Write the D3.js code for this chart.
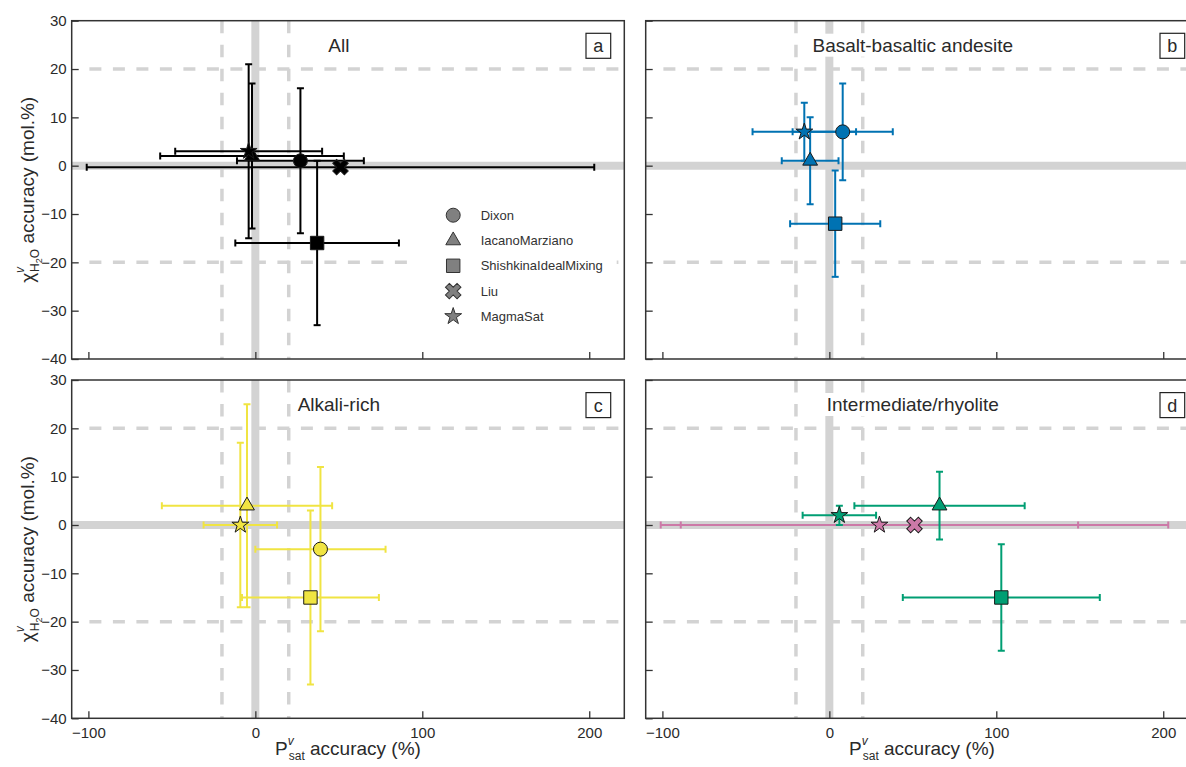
<!DOCTYPE html>
<html><head><meta charset="utf-8">
<script src="https://cdn.jsdelivr.net/npm/d3@7"></script>
<style>
body{margin:0;background:#fff;overflow:hidden;}
svg{display:block;font-family:"Liberation Sans",Arial,Helvetica,sans-serif;}
</style>
</head><body>
<svg id="chart" width="1186" height="767"></svg>
<script>
// ---------------- data ----------------
const models = ["Dixon", "IacanoMarziano", "ShishkinaIdealMixing", "Liu", "MagmaSat"];
const xTicks = [-100, 0, 100, 200];
const yTicks = [-40, -30, -20, -10, 0, 10, 20, 30];
const panelTitles = ["All", "Basalt-basaltic andesite", "Alkali-rich", "Intermediate/rhyolite"];
const panelLetters = ["a", "b", "c", "d"];

// point: model, group, x (P accuracy %), xerr, y (X accuracy mol.%), yerr
const dataAll = [
  {model: "Liu", group: "all", x: 51, xerr: 152, y: -0.3, yerr: 0},
  {model: "IacanoMarziano", group: "all", x: -2, xerr: 55, y: 2, yerr: 15},
  {model: "MagmaSat", group: "all", x: -4, xerr: 44, y: 3, yerr: 18},
  {model: "Dixon", group: "all", x: 27, xerr: 38, y: 1, yerr: 15},
  {model: "ShishkinaIdealMixing", group: "all", x: 37, xerr: 49, y: -16, yerr: 17}
];
const dataBasalt = [
  {model: "Dixon", group: "basalt", x: 8, xerr: 30, y: 7, yerr: 10},
  {model: "MagmaSat", group: "basalt", x: -15, xerr: 31, y: 7, yerr: 6},
  {model: "IacanoMarziano", group: "basalt", x: -11.5, xerr: 17, y: 1, yerr: 9},
  {model: "ShishkinaIdealMixing", group: "basalt", x: 3.5, xerr: 27, y: -12, yerr: 11}
];
const dataAlkali = [
  {model: "IacanoMarziano", group: "alkali", x: -5, xerr: 51, y: 4, yerr: 21},
  {model: "MagmaSat", group: "alkali", x: -9, xerr: 22, y: 0, yerr: 17},
  {model: "Dixon", group: "alkali", x: 39, xerr: 39, y: -5, yerr: 17},
  {model: "ShishkinaIdealMixing", group: "alkali", x: 33, xerr: 41, y: -15, yerr: 18}
];
const dataIntermediate = [
  {model: "Liu", group: "rhyolite", x: 51, xerr: 152, y: 0, yerr: 0},
  {model: "MagmaSat", group: "rhyolite", x: 30, xerr: 119, y: 0, yerr: 0},
  {model: "MagmaSat", group: "intermediate", x: 6, xerr: 22, y: 2, yerr: 2},
  {model: "IacanoMarziano", group: "intermediate", x: 66, xerr: 51, y: 4, yerr: 7},
  {model: "ShishkinaIdealMixing", group: "intermediate", x: 103, xerr: 59, y: -15, yerr: 11}
];
const panelData = [dataAll, dataBasalt, dataAlkali, dataIntermediate];

// ---------------- styles ----------------
const groupColor = {all: "#000000", basalt: "#0072B2", alkali: "#F0E442",
                    intermediate: "#009E73", rhyolite: "#CC79A7"};
const symbolType = {Dixon: d3.symbolCircle, IacanoMarziano: d3.symbolTriangle,
  ShishkinaIdealMixing: d3.symbolSquare, Liu: d3.symbolCross, MagmaSat: d3.symbolStar};
const symbolSize = {Dixon: 154, IacanoMarziano: 95, ShishkinaIdealMixing: 180, Liu: 150, MagmaSat: 88};

const W = 552.6, H = 338.3;
const origins = [[71.7, 20.7], [645.7, 20.7], [71.7, 380], [645.7, 380]];
const x = d3.scaleLinear().domain([-110, 221]).range([0, W]);
const y = d3.scaleLinear().domain([-40, 30]).range([H, 0]);

const svg = d3.select("#chart");
const GRAY = "#d3d3d3";
const TXT = "#2a2a2a";

function symbolPath(model) {
  return d3.symbol().type(symbolType[model]).size(symbolSize[model])();
}

panelData.forEach((data, i) => {
  const [ox, oy] = origins[i];
  const g = svg.append("g").attr("transform", `translate(${ox},${oy})`);
  const clipId = "clip" + i;
  g.append("clipPath").attr("id", clipId).append("rect").attr("width", W).attr("height", H);
  const plot = g.append("g").attr("clip-path", `url(#${clipId})`);

  // reference lines
  plot.append("line").attr("x1", 0).attr("x2", W).attr("y1", y(0)).attr("y2", y(0))
    .attr("stroke", GRAY).attr("stroke-width", 8);
  plot.append("line").attr("x1", x(0)).attr("x2", x(0)).attr("y1", 0).attr("y2", H)
    .attr("stroke", GRAY).attr("stroke-width", 8);
  [-20, 20].forEach(v => {
    plot.append("line").attr("x1", x(-100) + 1).attr("x2", W).attr("y1", y(v)).attr("y2", y(v))
      .attr("stroke", GRAY).attr("stroke-width", 3.5).attr("stroke-dasharray", "12,11.5");
    plot.append("line").attr("x1", x(v)).attr("x2", x(v)).attr("y1", 0).attr("y2", H)
      .attr("stroke", GRAY).attr("stroke-width", 3.5).attr("stroke-dasharray", "12.5,11.5");
  });

  // title with white background
  const title = plot.append("text").attr("x", x(50)).attr("y", 31)
    .attr("text-anchor", "middle").attr("font-size", 19).attr("fill", TXT)
    .text(panelTitles[i]);
  const bb = title.node().getBBox();
  plot.insert("rect", "text").attr("x", bb.x - 3).attr("y", bb.y - 1)
    .attr("width", bb.width + 6).attr("height", bb.height + 2).attr("fill", "#fff");

  // error bars
  const cap = 3.5;
  const bars = plot.append("g").attr("fill", "none").attr("stroke-width", 2);
  data.forEach(d => {
    const c = groupColor[d.group];
    const bg = bars.append("g").attr("stroke", c);
    const yy = y(d.y), xl = x(d.x - d.xerr), xr = x(d.x + d.xerr);
    bg.append("line").attr("x1", xl).attr("x2", xr).attr("y1", yy).attr("y2", yy);
    bg.append("line").attr("x1", xl).attr("x2", xl).attr("y1", yy - cap).attr("y2", yy + cap);
    bg.append("line").attr("x1", xr).attr("x2", xr).attr("y1", yy - cap).attr("y2", yy + cap);
    if (d.yerr > 0) {
      const xx = x(d.x), yt = y(d.y + d.yerr), yb = y(d.y - d.yerr);
      bg.append("line").attr("x1", xx).attr("x2", xx).attr("y1", yt).attr("y2", yb);
      bg.append("line").attr("x1", xx - cap).attr("x2", xx + cap).attr("y1", yt).attr("y2", yt);
      bg.append("line").attr("x1", xx - cap).attr("x2", xx + cap).attr("y1", yb).attr("y2", yb);
    }
  });

  // markers
  plot.append("g").selectAll("path").data(data).join("path")
    .attr("d", d => symbolPath(d.model))
    .attr("transform", d => `translate(${x(d.x)},${y(d.y)})` + (d.model === "Liu" ? " rotate(45)" : ""))
    .attr("fill", d => groupColor[d.group])
    .attr("stroke", "#1a1a1a").attr("stroke-width", 1);

  // legend (panel a)
  if (i === 0) {
    const lg = plot.append("g");
    lg.append("rect").attr("x", 345).attr("y", 178).attr("width", 200).attr("height", 137).attr("fill", "#fff");
    models.forEach((m, k) => {
      const ly = 194.5 + k * 25.3;
      lg.append("path").attr("d", symbolPath(m))
        .attr("transform", `translate(381.5,${ly})` + (m === "Liu" ? " rotate(45)" : ""))
        .attr("fill", "#808080").attr("stroke", "#333").attr("stroke-width", 1);
      lg.append("text").attr("x", 409).attr("y", ly).attr("dy", "0.35em")
        .attr("font-size", 13).attr("fill", "#333").text(m);
    });
  }

  // axes
  const left = i % 2 === 0, bottom = i >= 2;
  const ax = g.append("g").attr("transform", `translate(0,${H})`)
    .call(d3.axisBottom(x).tickValues(xTicks).tickSize(-7).tickSizeOuter(0).tickPadding(9)
      .tickFormat(bottom ? d3.format("d") : ""));
  const ay = g.append("g")
    .call(d3.axisLeft(y).tickValues(yTicks).tickSize(-7).tickSizeOuter(0).tickPadding(5)
      .tickFormat(left ? d3.format("d") : ""));
  [ax, ay].forEach(a => {
    a.select(".domain").remove();
    a.selectAll(".tick line").attr("stroke", "#333").attr("stroke-width", 1.3);
    a.selectAll(".tick text").attr("font-size", 15).attr("fill", TXT)
      .attr("font-family", '"Liberation Sans",Arial,sans-serif');
  });

  // frame
  g.append("rect").attr("width", W).attr("height", H).attr("fill", "none")
    .attr("stroke", "#333").attr("stroke-width", 1.5);

  // panel letter box
  g.append("rect").attr("x", W - 38.3).attr("y", 12.6).attr("width", 24.7).attr("height", 25)
    .attr("fill", "#fff").attr("stroke", "#222").attr("stroke-width", 1.2);
  g.append("text").attr("x", W - 26).attr("y", 25.5).attr("dy", "0.35em")
    .attr("text-anchor", "middle").attr("font-size", 18).attr("fill", TXT).text(panelLetters[i]);

  // x label
  if (bottom) {
    const t = g.append("text").attr("x", W / 2).attr("y", H + 37)
      .attr("text-anchor", "middle").attr("font-size", 19).attr("fill", TXT);
    t.append("tspan").text("P");
    t.append("tspan").attr("dy", -10).attr("font-size", 12).attr("font-style", "italic").text("v");
    t.append("tspan").attr("dx", -5).attr("dy", 15).attr("font-size", 12).text("sat");
    t.append("tspan").attr("dy", -5).text(" accuracy (%)");
  }
  // y label
  if (left) {
    const t = svg.append("text")
      .attr("transform", `translate(34,${oy + H / 2}) rotate(-90)`)
      .attr("text-anchor", "middle").attr("font-size", 19).attr("fill", TXT);
    t.append("tspan").text("χ");
    t.append("tspan").attr("dy", -10).attr("font-size", 12).attr("font-style", "italic").text("v");
    t.append("tspan").attr("dx", -5).attr("dy", 15).attr("font-size", 12).text("H");
    t.append("tspan").attr("dy", 3).attr("font-size", 9).text("2");
    t.append("tspan").attr("dy", -3).attr("font-size", 12).text("O");
    t.append("tspan").attr("dy", -5).text(" accuracy (mol.%)");
  }
});
</script>
</body></html>
